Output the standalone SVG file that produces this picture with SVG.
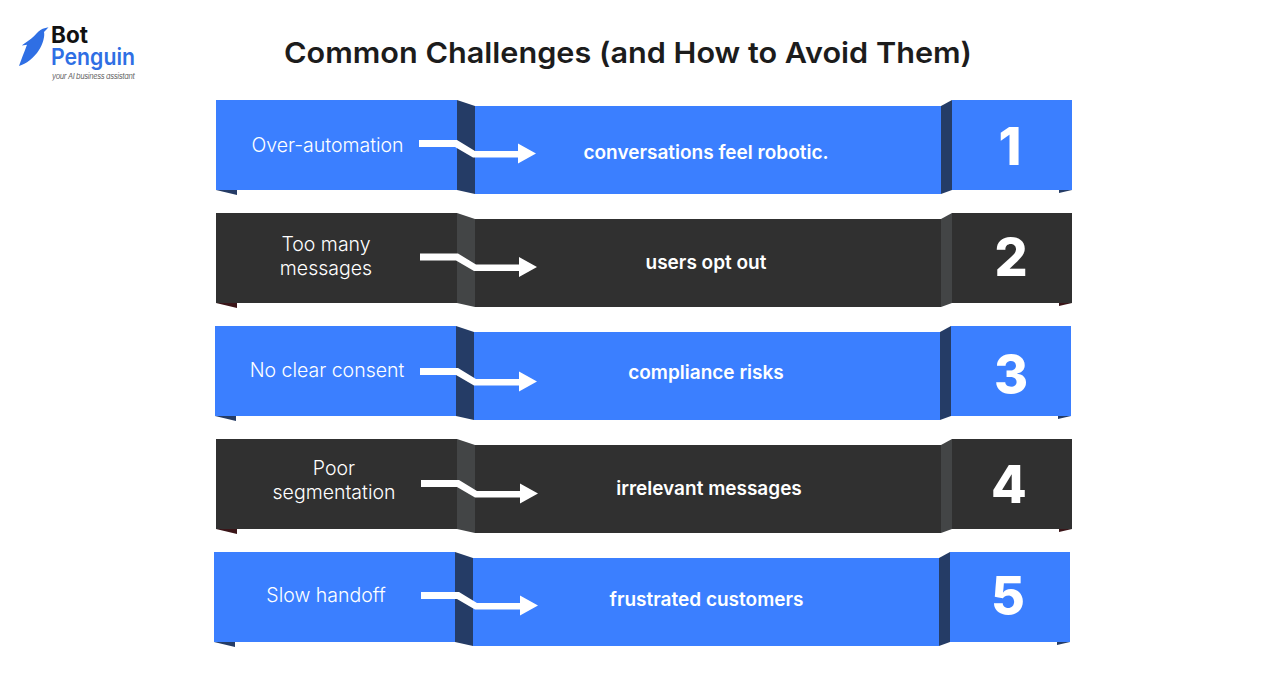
<svg xmlns="http://www.w3.org/2000/svg" width="1288" height="686" viewBox="0 0 1288 686">
<style>
text{font-family:"Inter","Liberation Sans",sans-serif}
.title{font-size:29px;font-weight:600;fill:#1c1c1c}
.lab{font-size:19.5px;font-weight:300;fill:#fff;text-anchor:middle}
.res{font-size:19px;font-weight:600;fill:#fff;text-anchor:middle}
.num{font-size:52px;font-weight:800;fill:#fff;text-anchor:middle}
.blue{--f:#3b7fff;--s:#253c66;--c:#253c66}
.dark{--f:#303030;--s:#434546;--c:#3a1518}
.f{fill:var(--f)}.s{fill:var(--s)}.c{fill:var(--c)}
</style>
<defs>
<g id="band">
<polygon class="c" points="0,90 21,90 21,95"/>
<polygon class="c" points="843,90 856,88 856,90 843,93"/>
<rect class="f" x="0" y="0" width="241" height="90"/>
<polygon class="s" points="241,0 259,6 259,94 241,90"/>
<rect class="f" x="259" y="6" width="466" height="88"/>
<polygon class="s" points="725,6 736,0 736,90 725,94"/>
<rect class="f" x="736" y="0" width="120" height="90"/>
</g>
<polygon id="arrow" fill="#fff" points="203,39.5 241,39.5 259,50.5 302,50.5 302,43 320,53 302,63 302,57 257,57 239,46.5 203,46.5"/>
</defs>
<g id="logo">
<path fill="#2f6fe4" d="M48.5,27.3 C44,28 41,29.5 38.5,31.5 C36,34 33,38 28,41 C25,43 22.5,44.5 22,45.5 L27,44.8 C25,50 22,58 19,66 C26,64 34,58 39,50 C43,44 45,36 44,32 C45.5,30.5 47,29 48.5,27.3 Z"/>
<text x="51" y="43" font-size="22.5" font-weight="700" fill="#111">Bot</text>
<text x="51" y="65" font-size="22.5" font-weight="600" fill="#2f6fe4" textLength="84" lengthAdjust="spacingAndGlyphs">Penguin</text>
<text x="52" y="79" font-size="7.4" font-style="italic" fill="#666" textLength="83">your AI business assistant</text>
</g>
<text id="title" class="title" x="284" y="63" textLength="688" lengthAdjust="spacingAndGlyphs">Common Challenges (and How to Avoid Them)</text>
<g id="row-1" class="blue">
<use href="#band" x="216" y="100"/>
<text class="lab" x="327.5" y="152">Over-automation</text>
<text class="res" x="706" y="159">conversations feel robotic.</text>
<text class="num" x="1010" y="165">1</text>
</g>
<g id="row-2" class="dark">
<use href="#band" x="216" y="213"/>
<text class="lab" x="326" y="251">Too many</text>
<text class="lab" x="326" y="275">messages</text>
<text class="res" x="706" y="269">users opt out</text>
<text class="num" x="1011" y="276">2</text>
</g>
<g id="row-3" class="blue">
<use href="#band" x="215" y="326"/>
<text class="lab" x="327" y="377">No clear consent</text>
<text class="res" x="706" y="379">compliance risks</text>
<text class="num" x="1011" y="393">3</text>
</g>
<g id="row-4" class="dark">
<use href="#band" x="216" y="439"/>
<text class="lab" x="334" y="475">Poor</text>
<text class="lab" x="334" y="499">segmentation</text>
<text class="res" x="709" y="495">irrelevant messages</text>
<text class="num" x="1009" y="503">4</text>
</g>
<g id="row-5" class="blue">
<use href="#band" x="214" y="552"/>
<text class="lab" x="326" y="602">Slow handoff</text>
<text class="res" x="706.5" y="606">frustrated customers</text>
<text class="num" x="1008" y="614">5</text>
</g>
<g id="connectors">
<use href="#arrow" x="216" y="100.5"/>
<use href="#arrow" x="217" y="214"/>
<use href="#arrow" x="217" y="328.5"/>
<use href="#arrow" x="218" y="440.5"/>
<use href="#arrow" x="218" y="552.5"/>
</g>
</svg>
